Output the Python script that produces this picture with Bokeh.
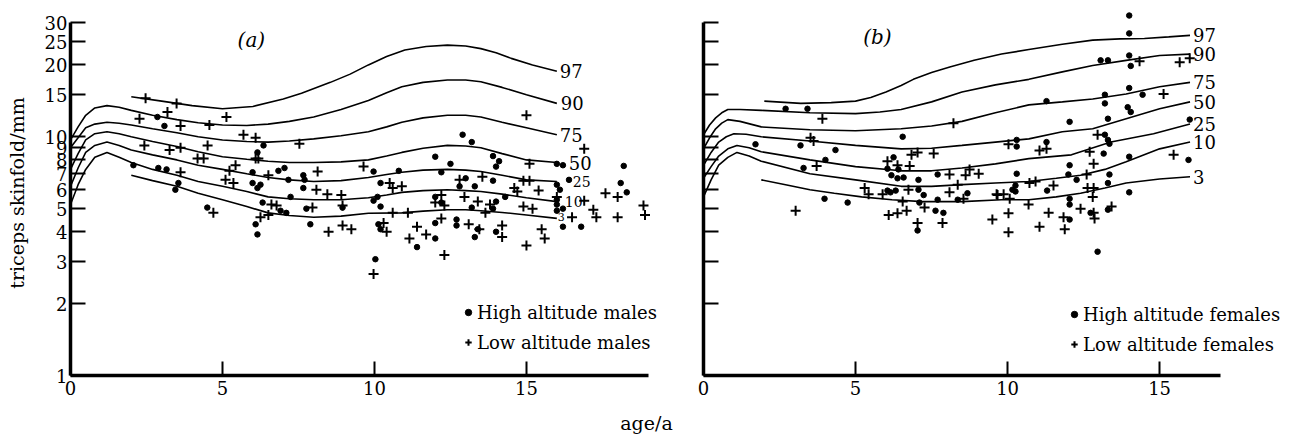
from bokeh.plotting import figure
from bokeh.models import (Range1d, FixedTicker, BasicTickFormatter, Legend, LegendItem, Label)
from bokeh.layouts import column, row
from bokeh.embed import file_html
from bokeh.resources import INLINE
from bokeh.core.properties import value

FONT = "DejaVu Serif"

# ---------------- panel (a): males ----------------
centile_names = ["97", "90", "75", "50", "25", "10", "3"]

a_age_main = [0, 0.25, 0.5, 0.8, 1.2, 1.6, 2.0, 2.7, 3.5, 4.2, 5.0, 5.8, 6.5, 7.2, 8.0, 8.9,
              9.8, 10.4, 10.9, 11.6, 12.4, 13.0, 13.5, 14.2, 15.0, 16.0]
a_p90 = [9.7, 11.0, 12.3, 13.2, 13.5, 13.3, 12.9, 12.3, 11.8, 11.45, 11.2, 11.15, 11.3, 11.6, 12.1,
         13.0, 14.2, 15.3, 16.2, 16.9, 17.3, 17.3, 17.0, 16.1, 15.0, 13.8]
a_p75 = [9.0, 9.9, 10.9, 11.3, 11.5, 11.4, 11.2, 10.8, 10.4, 10.0, 9.7, 9.55, 9.5, 9.6, 9.8,
         10.1, 10.5, 11.0, 11.5, 12.0, 12.3, 12.3, 12.1, 11.5, 10.9, 10.2]
a_p50 = [7.3, 8.5, 9.7, 10.3, 10.5, 10.3, 10.0, 9.55, 9.1, 8.65, 8.25, 8.05, 7.9, 7.8, 7.8,
         7.85, 8.0, 8.3, 8.6, 8.95, 9.2, 9.15, 9.0, 8.5, 8.0, 7.8]
a_p25 = [6.2, 7.4, 8.6, 9.2, 9.5, 9.2, 8.8, 8.4, 8.0, 7.6, 7.3, 7.0, 6.75, 6.6, 6.5,
         6.55, 6.75, 6.95, 7.1, 7.25, 7.3, 7.25, 7.15, 6.9, 6.6, 6.5]
a_p10 = [5.2, 6.3, 7.3, 8.2, 8.6, 8.2, 7.8, 7.3, 6.9, 6.5, 6.2, 5.9, 5.6, 5.5, 5.45,
         5.45, 5.55, 5.7, 5.85, 5.95, 6.0, 5.95, 5.9, 5.75, 5.55, 5.35]
a_age_p97 = [2.0, 3.0, 4.0, 5.0, 6.0, 7.0, 7.6, 8.55, 9.2, 9.8, 10.4, 11.0, 11.7, 12.4, 13.0,
             13.5, 14.0, 14.5, 15.2, 16.0]
a_p97 = [14.7, 14.1, 13.5, 13.1, 13.4, 14.4, 15.2, 16.9, 18.3, 20.0, 21.7, 23.1, 23.9, 24.2, 24.0,
         23.4, 22.5, 21.3, 20.0, 18.8]
a_age_p3 = [2.0, 2.7, 3.5, 4.2, 5.0, 5.8, 6.5, 7.2, 8.0, 8.9, 9.8, 10.9, 11.6, 12.4, 13.0,
            13.5, 14.2, 15.0, 16.0]
a_p3 = [6.9, 6.55, 6.2, 5.8, 5.45, 5.1, 4.8, 4.68, 4.6, 4.65, 4.78, 4.8, 4.88, 4.95, 4.95,
        4.9, 4.82, 4.7, 4.55]

high_m_age = [2.86, 3.09, 2.07, 2.89, 3.16, 3.55, 3.45, 4.5, 6.35, 6.15, 5.99, 5.99, 6.25, 6.15, 6.84,
              7.04, 7.17, 7.66, 7.7, 7.66, 7.24, 6.32, 6.91, 7.1, 6.09, 6.15, 7.89, 7.76, 8.95, 9.97,
              10.2, 10.8, 9.97, 10.1, 10.2, 10.13, 10.2, 10.03, 11.4, 12.9, 13.2, 12.0, 12.5, 13.9,
              14.1, 14.0, 12.2, 13.9, 13.0, 13.3, 12.8, 12.0, 12.2, 14.3, 14.0, 13.9, 13.2, 12.0, 12.7,
              12.7, 13.3, 13.4, 14.0, 12.0, 16.0, 16.2, 18.2, 16.4, 18.1, 18.3, 16.0, 16.1, 16.0, 16.0,
              16.2, 16.0, 16.2, 16.8]
high_m_val = [12.1, 11.1, 7.6, 7.4, 7.3, 6.4, 6.0, 5.05, 9.2, 8.6, 7.1, 6.4, 6.3, 6.1, 7.2,
              7.4, 6.6, 6.9, 6.6, 6.1, 5.6, 5.3, 4.9, 4.8, 4.3, 3.9, 4.3, 5.0, 5.05, 7.15,
              6.4, 7.2, 5.4, 5.6, 5.1, 4.3, 4.1, 3.07, 3.45, 10.2, 9.5, 8.25, 7.7, 8.3,
              7.9, 7.5, 7.1, 6.55, 6.7, 6.2, 6.2, 5.6, 5.3, 5.6, 5.35, 5.0, 5.05, 4.35, 4.5,
              4.25, 3.8, 4.1, 4.0, 3.75, 7.7, 7.6, 7.55, 6.6, 6.4, 5.85, 6.3, 6.0, 5.45, 5.2,
              5.0, 4.9, 4.2, 4.2]

low_m_age = [2.47, 3.49, 3.19, 2.27, 3.62, 4.57, 5.13, 5.69, 6.09, 7.53,
             2.43, 3.26, 3.62, 4.51, 4.18, 4.38, 6.09, 6.18, 5.43, 5.23,
             3.62, 5.1, 5.36, 6.51, 8.13, 8.09, 8.45, 8.91, 4.7, 6.61,
             6.78, 6.51, 6.25, 7.96, 8.95, 8.95, 9.24, 8.49, 9.64, 10.5,
             10.6, 10.9, 10.6, 11.1, 10.3, 10.4, 11.15, 11.4, 9.97, 12.8,
             13.55, 12.96, 13.4, 13.8, 12.2, 12.0, 12.3, 14.6, 14.7, 15.4,
             15.1, 14.9, 15.1, 14.9, 15.2, 13.65, 11.7, 12.2, 13.1, 13.45,
             14.2, 14.2, 15.0, 15.6, 15.5, 12.3, 16.0, 16.9, 16.9, 17.2,
             17.3, 16.5, 17.6, 18.0, 18.0, 18.85, 18.9, 15.0]
low_m_val = [14.5, 13.8, 12.7, 11.9, 11.1, 11.2, 12.1, 10.2, 9.9, 9.35,
             9.2, 8.8, 9.0, 9.2, 8.1, 8.1, 8.1, 8.1, 7.6, 7.2,
             7.1, 6.6, 6.4, 6.9, 7.15, 6.0, 5.75, 5.7, 4.8, 5.2,
             5.15, 4.7, 4.6, 5.05, 5.15, 4.25, 4.1, 4.0, 7.5, 6.4,
             6.1, 6.2, 4.8, 4.8, 4.35, 4.0, 3.75, 4.2, 2.66, 6.6,
             6.8, 5.6, 5.35, 5.2, 5.7, 5.3, 5.15, 6.1, 5.9, 5.95,
             7.7, 6.55, 6.55, 5.1, 5.0, 4.8, 3.9, 4.55, 4.3, 4.1,
             4.25, 3.8, 3.5, 3.75, 4.1, 3.2, 5.6, 5.4, 8.9, 4.95,
             4.6, 4.6, 5.8, 5.6, 4.6, 5.15, 4.7, 12.3]

# ---------------- panel (b): females ----------------
b_age_p97 = [2.0, 3.2, 4.2, 5.0, 5.5, 6.0, 6.5, 6.9, 7.5, 8.1, 8.9, 9.8, 10.7, 11.8, 12.8,
             13.7, 14.5, 15.3, 16.0]
b_p97 = [14.1, 13.8, 13.9, 14.1, 14.6, 15.4, 16.4, 17.4, 18.6, 19.6, 20.9, 22.2, 23.2, 24.4, 25.4,
         25.7, 25.8, 26.2, 26.6]
b_age_p90 = [0, 0.2, 0.4, 0.6, 0.8, 1.2, 1.9, 3.5, 5.0, 5.8, 6.5, 7.5, 8.5, 9.6, 10.7,
             11.8, 12.8, 13.9, 15.0, 16.0]
b_p90 = [10.2, 11.2, 12.0, 12.6, 13.0, 13.0, 12.9, 12.6, 12.5, 12.7, 13.0, 14.0, 15.4, 16.5, 17.4,
         18.7, 19.9, 20.9, 21.9, 22.2]
b_age_p75 = [0, 0.2, 0.4, 0.6, 0.8, 1.2, 1.9, 3.5, 5.0, 6.5, 7.5, 8.5, 9.6, 10.7, 11.8,
             12.8, 13.9, 15.0, 16.0]
b_p75 = [8.9, 9.9, 10.8, 11.4, 11.8, 11.6, 11.0, 10.7, 10.6, 10.8, 11.1, 11.6, 12.6, 13.6, 14.0,
         14.4, 15.1, 16.2, 16.9]
b_age_p50 = [0, 0.25, 0.5, 0.75, 1.0, 1.4, 1.9, 3.5, 5.0, 6.5, 7.5, 8.5, 9.6, 10.7, 11.8,
             12.8, 13.9, 15.0, 16.0]
b_p50 = [7.6, 8.6, 9.5, 10.0, 10.3, 10.25, 10.0, 9.6, 9.2, 8.9, 8.95, 9.2, 9.5, 9.8, 10.5,
         10.8, 11.9, 13.1, 14.0]
b_age_p25 = [0, 0.25, 0.5, 0.8, 1.1, 1.5, 1.9, 3.5, 5.0, 6.5, 7.5, 8.5, 9.6, 10.7, 12.1,
             13.4, 14.8, 16.0]
b_p25 = [6.7, 7.5, 8.3, 8.9, 9.2, 9.0, 8.65, 8.0, 7.5, 7.2, 7.2, 7.4, 7.7, 8.1, 8.4,
         9.5, 10.3, 11.3]
b_age_p10 = [0, 0.25, 0.5, 0.8, 1.1, 1.5, 1.9, 3.5, 5.0, 6.5, 7.5, 8.5, 9.6, 10.7, 11.6,
             12.4, 13.2, 13.9, 15.0, 16.0]
b_p10 = [5.6, 6.6, 7.6, 8.2, 8.6, 8.3, 7.9, 7.0, 6.6, 6.2, 6.2, 6.3, 6.4, 6.5, 6.7,
         6.9, 7.3, 7.85, 8.9, 9.5]
b_age_p3 = [1.9, 2.7, 3.5, 4.3, 5.2, 6.2, 7.2, 8.5, 9.8, 10.7, 11.6, 12.4, 13.2, 13.9, 15.0, 16.0]
b_p3 = [6.6, 6.3, 6.0, 5.8, 5.6, 5.45, 5.35, 5.35, 5.45, 5.45, 5.6, 5.8, 6.1, 6.4, 6.65, 6.8]

high_f_age = [2.70, 3.42, 1.71, 3.19, 4.34, 4.01, 3.29, 6.55, 6.25, 6.05,
              6.41, 6.18, 6.38, 6.58, 7.07, 7.7, 6.05, 6.15, 6.32, 7.07,
              7.24, 8.68, 8.36, 7.1, 7.7, 3.98, 4.74, 7.63, 7.89, 7.04,
              14.0, 14.0, 13.06, 13.3, 14.0, 14.05, 14.0, 14.44, 13.2, 13.2,
              11.28, 13.95, 14.05, 12.04, 13.3, 15.99, 10.3, 10.3, 11.28, 13.2,
              13.3, 13.35, 13.16, 14.0, 15.95, 12.04, 10.3, 12.0, 12.27, 13.35,
              13.3, 10.26, 10.16, 10.26, 11.3, 14.0, 12.04, 12.04, 12.73, 13.3,
              12.04, 12.96]
high_f_val = [13.1, 13.1, 9.3, 9.2, 8.8, 8.0, 7.4, 10.0, 8.2, 7.35,
              7.3, 6.9, 6.7, 6.75, 6.6, 6.95, 5.95, 5.85, 5.95, 6.0,
              5.7, 5.8, 5.45, 5.3, 5.45, 5.5, 5.3, 4.9, 4.8, 4.05,
              32.2, 27.1, 20.9, 20.9, 21.9, 19.8, 16.0, 15.0, 15.0, 13.8,
              14.1, 13.3, 12.7, 11.55, 11.9, 11.8, 9.7, 9.1, 9.5, 10.2,
              9.7, 9.35, 8.5, 8.25, 8.0, 7.6, 7.0, 6.95, 6.6, 6.95,
              6.4, 6.25, 6.0, 5.9, 5.95, 5.85, 5.5, 5.2, 4.8, 4.95,
              4.5, 3.3]

low_f_age = [3.91, 8.22, 3.52, 3.62, 3.72, 6.84, 7.04, 7.57, 6.05, 6.38,
             6.78, 8.09, 8.62, 8.75, 9.05, 5.3, 5.43, 5.89, 6.74, 8.09,
             8.36, 8.55, 6.55, 7.27, 6.09, 6.38, 6.68, 3.03, 7.04, 7.86,
             9.67, 9.5, 14.34, 15.66, 15.99, 15.13, 12.96, 10.03, 11.05, 11.28,
             12.7, 12.83, 15.46, 12.6, 10.72, 10.92, 11.51, 12.63, 12.83, 12.8,
             9.64, 9.87, 10.07, 10.03, 10.69, 11.35, 11.84, 12.4, 12.83, 13.42,
             10.03, 11.05, 11.88, 12.86]
low_f_val = [11.9, 11.4, 9.9, 9.6, 7.55, 8.4, 8.6, 8.5, 7.9, 7.6,
             7.55, 6.95, 6.9, 7.3, 7.0, 6.1, 5.75, 5.75, 6.0, 5.85,
             6.3, 5.5, 5.35, 5.05, 4.7, 4.78, 4.9, 4.9, 4.35, 4.35,
             5.7, 4.5, 20.7, 20.5, 21.3, 15.1, 10.2, 9.3, 8.75, 8.9,
             8.65, 7.7, 8.4, 6.95, 6.4, 6.5, 6.25, 6.1, 6.1, 5.6,
             5.75, 5.75, 5.5, 4.78, 5.2, 4.8, 4.6, 5.0, 4.8, 5.1,
             3.98, 4.2, 4.1, 4.55]

y_ticks = [1, 2, 3, 4, 5, 6, 7, 8, 9, 10, 15, 20, 25, 30]
x_ticks = [0, 5, 10, 15]


def make_panel(width, border_left, border_top, border_bottom, x_max, x_axis_end,
               show_y_labels, curves, label_styles, hi_age, hi_val, lo_age, lo_val,
               legend_labels, legend_loc, tag, tag_xy):
    p = figure(width=width, height=410, x_range=Range1d(0, x_max), y_range=Range1d(1, 33.8),
               y_axis_type="log", output_backend="svg", toolbar_location=None,
               min_border_left=border_left, min_border_right=0,
               min_border_top=border_top, min_border_bottom=border_bottom)
    p.grid.visible = False
    p.outline_line_color = None
    p.background_fill_color = "white"
    p.border_fill_color = "white"

    # x axis
    xa = p.xaxis[0]
    xa.ticker = FixedTicker(ticks=x_ticks, minor_ticks=[])
    xa.bounds = (0, x_axis_end)
    xa.axis_line_width = 3.5
    xa.axis_line_color = "black"
    xa.major_tick_in = 14
    xa.major_tick_out = 0
    xa.major_tick_line_width = 2
    xa.major_tick_line_color = "black"
    xa.minor_tick_in = 0
    xa.minor_tick_out = 0
    xa.major_label_text_font = FONT
    xa.major_label_text_font_size = "18px"
    xa.major_label_text_color = "black"
    xa.major_label_standoff = 5

    # y axis (log)
    ya = p.yaxis[0]
    ya.ticker = FixedTicker(ticks=y_ticks, minor_ticks=[])
    ya.formatter = BasicTickFormatter()
    ya.bounds = (1, 30)
    ya.axis_line_width = 3.5
    ya.axis_line_color = "black"
    ya.major_tick_in = 15
    ya.major_tick_out = 0
    ya.major_tick_line_width = 2
    ya.major_tick_line_color = "black"
    ya.minor_tick_in = 0
    ya.minor_tick_out = 0
    ya.major_label_text_font = FONT
    ya.major_label_text_font_size = "18px"
    ya.major_label_standoff = 3
    if show_y_labels:
        ya.major_label_text_color = "black"
        ya.axis_label = "triceps skinfold/mm"
        ya.axis_label_text_font = FONT
        ya.axis_label_text_font_style = "normal"
        ya.axis_label_text_font_size = "19px"
        ya.axis_label_text_color = "black"
        ya.axis_label_standoff = 14
    else:
        ya.major_label_text_color = None

    # centile curves
    for name, ages, vals in curves:
        p.line(ages, vals, line_color="black", line_width=1.6)
        size, dx, dy = label_styles[name]
        p.text(x=[ages[-1]], y=[vals[-1]], text=[name], x_offset=dx, y_offset=dy,
               text_font=value(FONT), text_font_size=value(size),
               text_baseline="middle", text_align="left", text_color="black")

    # observations
    hi = p.scatter(hi_age, hi_val, marker="circle", size=5.5, color="black")
    lo = p.scatter(lo_age, lo_val, marker="cross", size=10, line_width=2, color="black")

    legend = Legend(items=[LegendItem(label=legend_labels[0], renderers=[hi]),
                           LegendItem(label=legend_labels[1], renderers=[lo])],
                    location=legend_loc, border_line_color=None, background_fill_alpha=0,
                    padding=0, margin=0, spacing=0, glyph_width=16, glyph_height=30,
                    label_height=30, label_standoff=1, label_text_font=FONT,
                    label_text_font_size="18px", label_text_color="black")
    p.add_layout(legend)

    p.add_layout(Label(x=tag_xy[0], y=tag_xy[1], text=tag, text_font=FONT,
                       text_font_style="italic", text_font_size="20px", text_color="black",
                       text_align="center", text_baseline="middle"))
    return p


big = "18px"
labels_a = {"97": (big, 3, 0), "90": (big, 4, 0), "75": (big, 3, 0), "50": (big, 12, 0),
            "25": ("14px", 16, 0), "10": ("14px", 8, 0), "3": ("11px", 1, -1)}
labels_b = {k: (big, 3, 0) for k in centile_names}

curves_a = [("97", a_age_p97, a_p97), ("90", a_age_main, a_p90), ("75", a_age_main, a_p75),
            ("50", a_age_main, a_p50), ("25", a_age_main, a_p25), ("10", a_age_main, a_p10),
            ("3", a_age_p3, a_p3)]
curves_b = [("97", b_age_p97, b_p97), ("90", b_age_p90, b_p90), ("75", b_age_p75, b_p75),
            ("50", b_age_p50, b_p50), ("25", b_age_p25, b_p25), ("10", b_age_p10, b_p10),
            ("3", b_age_p3, b_p3)]

p1 = make_panel(660, 70, 10, 33, 19.41, 19, True, curves_a, labels_a,
                high_m_age, high_m_val, low_m_age, low_m_val,
                ["High altitude males", "Low altitude males"], (390, 18), "(a)", (5.95, 25.4))
p2 = make_panel(632, 43, 8, 35, 19.37, 17, False, curves_b, labels_b,
                high_f_age, high_f_val, low_f_age, low_f_val,
                ["High altitude females", "Low altitude females"], (363, 16), "(b)", (5.72, 26.1))

p3 = figure(width=1292, height=26, x_range=Range1d(0, 1292), y_range=Range1d(0, 26),
            output_backend="svg", toolbar_location=None, min_border=0)
p3.axis.visible = False
p3.grid.visible = False
p3.outline_line_color = None
p3.add_layout(Label(x=646, y=14, text="age/a", text_font=FONT, text_font_size="19px",
                    text_color="black", text_align="center", text_baseline="middle"))

layout = column(row(p1, p2), p3)
open("out.html", "w").write(file_html(layout, INLINE))
